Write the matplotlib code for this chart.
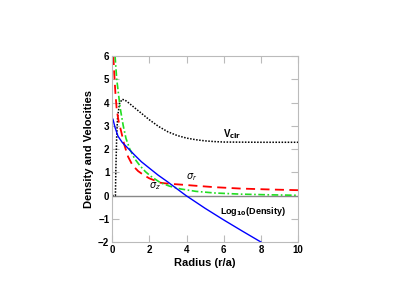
import matplotlib
matplotlib.use("Agg")
import matplotlib.pyplot as plt

plt.rcParams['font.family'] = ['Liberation Sans', 'DejaVu Sans']

# log10 density
r_dens = [0.05, 0.15, 0.32, 0.55, 0.86, 1.2, 1.58, 2.0, 2.47, 3.0, 3.5, 3.97, 5.0, 6.0, 7.0, 8.0]
log_dens = [3.28, 2.95, 2.55, 2.28, 2.03, 1.75, 1.45, 1.18, 0.88, 0.58, 0.28, 0.0, -0.55, -1.05, -1.53, -2.0]

# circular velocity
r_vcir = [0, 0.18, 0.2, 0.25, 0.3, 0.4, 0.54, 0.7, 0.9, 1.2, 1.6, 2.0, 2.5, 3.0, 3.5, 4.0, 4.5, 5.0, 5.5, 6.0, 8.0, 10.0]
v_cir = [0, 0, 1.0, 2.6, 3.4, 3.95, 4.14, 4.1, 3.98, 3.78, 3.52, 3.26, 2.97, 2.74, 2.58, 2.47, 2.4, 2.35, 2.32, 2.3, 2.29, 2.29]

# sigma_r
r_sigr = [0.07, 0.12, 0.18, 0.25, 0.35, 0.47, 0.65, 0.86, 1.1, 1.4, 1.7, 2.0, 2.6, 3.0, 3.7, 4.5, 5.5, 6.9, 8.5, 10.0]
sig_r = [6.0, 5.2, 4.4, 3.7, 3.2, 2.82, 2.2, 1.67, 1.3, 1.05, 0.88, 0.74, 0.55, 0.51, 0.47, 0.42, 0.36, 0.3, 0.26, 0.23]

# sigma_z
r_sigz = [0.16, 0.25, 0.37, 0.45, 0.6, 0.75, 0.95, 1.2, 1.5, 1.8, 2.1, 2.6, 3.1, 3.7, 4.5, 5.5, 6.9, 8.5, 10.0]
sig_z = [6.0, 5.0, 4.2, 3.7, 3.0, 2.45, 2.0, 1.6, 1.28, 1.02, 0.82, 0.55, 0.4, 0.28, 0.18, 0.11, 0.06, 0.03, 0.01]

fig = plt.figure(figsize=(3.96, 3.06), dpi=100)
ax = fig.add_axes([0.283, 0.209, 0.470, 0.608])

ax.axhline(0, color='#888888', lw=1.0)
ax.plot(r_vcir, v_cir, color='black', ls=(0, (1, 1)), lw=1.1)
ax.plot(r_sigr, sig_r, color='red', ls=(0, (5, 3)), lw=1.3)
ax.plot(r_sigz, sig_z, color='#22dd22', ls=(0, (4, 1.5, 1, 1.5)), lw=1.2)
ax.plot(r_dens, log_dens, color='blue', lw=1.0)

ax.text(5.95, 2.65, r'V$_{\mathbf{cir}}$', fontsize=7, fontweight='bold', va='center')
ax.text(3.95, 0.8, r'$\sigma_r$', fontsize=7, va='center')
ax.text(2.0, 0.4, r'$\sigma_z$', fontsize=7, va='center')
ax.text(5.8, -0.7, r'Log$_{\mathbf{10}}$(Density)', fontsize=6.5, fontweight='bold', va='center')

ax.set_xlim(0, 10)
ax.set_ylim(-2, 6)
ax.set_xticks([0, 2, 4, 6, 8, 10])
ax.set_yticks([-2, -1, 0, 1, 2, 3, 4, 5, 6])
ax.tick_params(direction='in', top=True, right=True, length=5, color='#bbbbbb', labelsize=7, pad=2)
for lab in ax.get_xticklabels() + ax.get_yticklabels():
    lab.set_fontweight('bold')
for s in ax.spines.values():
    s.set_color('#bbbbbb')
ax.set_xlabel('Radius (r/a)', fontsize=8, fontweight='bold', labelpad=2)
ax.set_ylabel('Density and Velocities', fontsize=8, fontweight='bold', labelpad=3)

fig.savefig('out.png', dpi=100)
